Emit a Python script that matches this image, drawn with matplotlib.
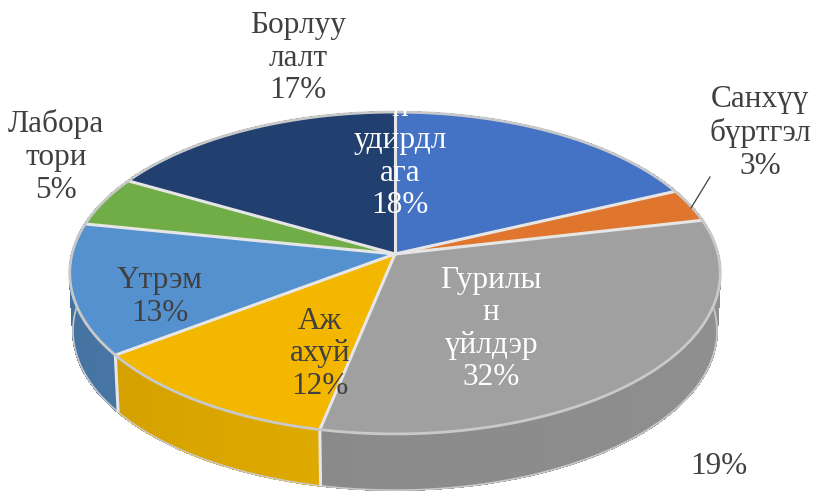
import numpy as np
from matplotlib import pyplot as plt

# slice shares in percent, clockwise from the top
shares = [18.2, 3.3, 31.8, 11.6, 13.2, 5.0, 16.9]
top_colors = ['#4472c4', '#e0752d', '#a0a0a0', '#f3b700', '#5591cf', '#70ad47', '#22406f']
wall_colors = ['#34588f', '#b05c22', '#8d8d8d', '#d8a400', '#44729f', '#578a37', '#1a3156']

# multi-line labels as they wrap in the picture
labels = [
    ('н\nудирдл\nага\n18%', 400, 157, 'white'),
    ('Санхүү\nбүртгэл\n3%', 760, 133, '#404040'),
    ('Гурилы\nн\nүйлдэр\n32%', 491, 329, 'white'),
    ('Аж\nахуй\n12%', 320, 354, '#404040'),
    ('Үтрэм\n13%', 160, 297, '#404040'),
    ('Лабора\nтори\n5%', 56, 157, '#404040'),
    ('Борлуу\nлалт\n17%', 298, 58, '#404040'),
    ('19%', 719, 467, '#404040'),
]

# projection of the tilted disc
apex_x, apex_y = 395, 254
rx, ry, persp = 323, 158.7, 0.118
depth, bottom_scale = 58, 0.99

rim = '#c9c9c9'
seam = '#e6e6e6'


# -------------------------------------------------------------------------------
# Function - unit circle angle (degrees clockwise from top) to picture coordinates
# -------------------------------------------------------------------------------
def project(angle, radius=1.0, drop=0.0, scale=1.0):
    a = np.radians(angle)
    x = radius * np.sin(a)
    y = radius * np.cos(a)
    d = 1 + persp * y
    return apex_x + scale * rx * x / d, apex_y - scale * ry * y / d + drop


def shade(color, k):
    c = np.array(plt.matplotlib.colors.to_rgb(color)) * k
    return tuple(np.clip(c, 0, 1))


fig = plt.figure(figsize=(8.13, 4.92), dpi=100)
ax = fig.add_axes([0, 0, 1, 1])
ax.set_xlim(0, 813)
ax.set_ylim(492, 0)
ax.axis('off')

edges = np.cumsum([0] + shares) * 3.6

# side wall first, the top face covers the back of it
for i in range(len(shares)):
    steps = np.arange(edges[i], edges[i + 1] + 1.5, 1.5)
    steps[-1] = min(steps[-1], edges[i + 1])
    for s0, s1 in zip(steps[:-1], steps[1:]):
        tx, ty = project(np.array([s0, s1]))
        bx, by = project(np.array([s1, s0]), drop=depth, scale=bottom_scale)
        # a little lighter towards the right end of each slice
        k = 0.98 + 0.05 * (edges[i + 1] - s0) / (edges[i + 1] - edges[i])
        col = shade(wall_colors[i], k)
        ax.fill(np.r_[tx, bx], np.r_[ty, by], color=col, lw=0.8, antialiased=False, zorder=1)

# outer edge of the wall
wall_angles = np.linspace(70, 290, 240)
bx, by = project(wall_angles, drop=depth, scale=bottom_scale)
ax.plot(bx, by, color=rim, lw=1.2, zorder=2)
for ang in [edges[3], edges[4]]:
    tx, ty = project(ang)
    bx, by = project(ang, drop=depth, scale=bottom_scale)
    ax.plot([tx, bx], [ty, by], color=seam, lw=2.2, zorder=2, solid_capstyle='butt')

# top face
for i in range(len(shares)):
    arc = np.linspace(edges[i], edges[i + 1], 80)
    ox, oy = project(arc)
    ax.fill(np.r_[apex_x, ox], np.r_[apex_y, oy], color=top_colors[i], lw=0.3, zorder=3)

for ang in edges[:-1]:
    ox, oy = project(ang)
    ax.plot([apex_x, ox], [apex_y, oy], color=seam, lw=2.2, zorder=4, solid_capstyle='butt')

ox, oy = project(np.linspace(0, 360, 400))
ax.plot(ox, oy, color=rim, lw=2, zorder=4)

# leader of the small slice
ax.plot([691, 710], [208, 177], color='#404040', lw=0.9, zorder=5)

for text, x, y, col in labels:
    ax.text(x, y, text, color=col, ha='center', va='center', fontsize=22.5,
            family='Liberation Serif', linespacing=1.16, zorder=6)

fig.savefig('out.png', dpi=100)
